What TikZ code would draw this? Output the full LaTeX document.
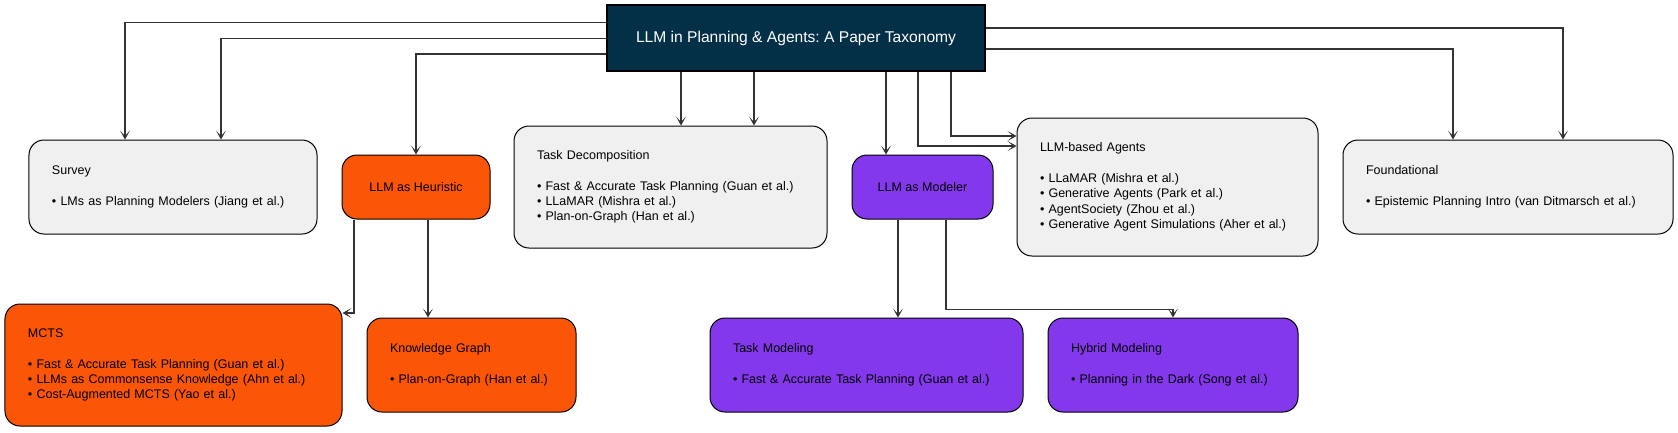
\documentclass[tikz,border=0pt]{standalone}
\usepackage{fontspec}
\setmainfont{Liberation Sans}
\usetikzlibrary{arrows.meta}
\definecolor{rootnavy}{HTML}{032F47}
\definecolor{heurorange}{HTML}{FB5607}
\definecolor{modpurple}{HTML}{8338EC}
\definecolor{papergray}{HTML}{F0F0F0}
\frenchspacing
\begin{document}
\begin{tikzpicture}[x=1bp,y=-1bp,>={Stealth[length=9bp,width=10bp,inset=5.5bp]}]
    \tikzstyle{every node}=[font=\fontsize{12.5bp}{15.3bp}\selectfont];
    \tikzstyle{box}=[draw=black,line width=1bp,rounded corners=15bp,fill=papergray,align=left,inner xsep=23bp,inner ysep=0pt];
    \tikzstyle{tag}=[draw=black,line width=1bp,rounded corners=15bp,align=center,inner sep=0pt];
    \tikzstyle{link}=[->,draw=black!80,line width=1.3bp];
    \useasboundingbox (0,0) rectangle (1678,432);

    \node at (796, 38) (root) [draw=black,line width=2.5bp,fill=rootnavy,text=white,minimum width=378bp,minimum height=66bp,font=\fontsize{15.6bp}{18bp}\selectfont] {LLM in Planning \& Agents: A Paper Taxonomy};

    % first row
    \node at (173, 187) (survey) [box,text width=242bp,minimum height=94bp] {Survey\\[15.3bp]• LMs as Planning Modelers (Jiang et al.)};
    \node at (416, 187) (heur) [tag,fill=heurorange,minimum width=148bp,minimum height=64bp] {LLM as Heuristic};
    \node at (670.5, 187) (taskdec) [box,text width=267bp,minimum height=122bp] {Task Decomposition\\[15.3bp]• Fast \& Accurate Task Planning (Guan et al.)\\• LLaMAR (Mishra et al.)\\• Plan-on-Graph (Han et al.)};
    \node at (922.5, 187) (modeler) [tag,fill=modpurple,minimum width=141bp,minimum height=64bp] {LLM as Modeler};
    \node at (1167.5, 187) (agents) [box,text width=255bp,minimum height=138bp] {LLM-based Agents\\[15.3bp]• LLaMAR (Mishra et al.)\\• Generative Agents (Park et al.)\\• AgentSociety (Zhou et al.)\\• Generative Agent Simulations (Aher et al.)};
    \node at (1508, 187) (found) [box,text width=284bp,minimum height=94bp] {Foundational\\[15.3bp]• Epistemic Planning Intro (van Ditmarsch et al.)};

    % second row
    \node at (173.5, 365) (mcts) [box,fill=heurorange,text width=291bp,minimum height=122bp] {MCTS\\[15.3bp]• Fast \& Accurate Task Planning (Guan et al.)\\• LLMs as Commonsense Knowledge (Ahn et al.)\\• Cost-Augmented MCTS (Yao et al.)};
    \node at (471.5, 365) (kg) [box,fill=heurorange,text width=163bp,minimum height=94bp] {Knowledge Graph\\[15.3bp]• Plan-on-Graph (Han et al.)};
    \node at (866.5, 365) (taskmod) [box,fill=modpurple,text width=267bp,minimum height=94bp] {Task Modeling\\[15.3bp]• Fast \& Accurate Task Planning (Guan et al.)};
    \node at (1173, 365) (hybrid) [box,fill=modpurple,text width=204bp,minimum height=94bp] {Hybrid Modeling\\[15.3bp]• Planning in the Dark (Song et al.)};

    \draw[link] ([yshift=15.5bp]root.west) -| ([xshift=-48bp]survey.north);
    \draw[link] ([yshift=-0.5bp]root.west) -| ([xshift=48bp]survey.north);
    \draw[link] ([yshift=-16bp]root.west) -| (heur.north);
    \draw[link] ([xshift=-115bp]root.south) -- ([xshift=-115bp]root.south |- taskdec.north);
    \draw[link] ([xshift=-42bp]root.south) -- ([xshift=-42bp]root.south |- taskdec.north);
    \draw[link] ([xshift=90bp]root.south) -- ([xshift=90bp]root.south |- modeler.north);
    \draw[link] ([xshift=122bp]root.south) |- ([yshift=41bp]agents.west);
    \draw[link] ([xshift=155bp]root.south) |- ([yshift=51bp]agents.west);
    \draw[link] ([yshift=10bp]root.east) -| ([xshift=55bp]found.north);
    \draw[link] ([yshift=-11bp]root.east) -| ([xshift=-55bp]found.north);

    \draw[link] ([xshift=-62bp]heur.south) |- ([yshift=52bp]mcts.east);
    \draw[link] ([xshift=12bp]heur.south) -- ([xshift=12bp]heur.south |- kg.north);
    \draw[link] ([xshift=-24.5bp]modeler.south) -- ([xshift=-24.5bp]modeler.south |- taskmod.north);
    \draw[link] ([xshift=23.5bp]modeler.south) -- ++(0,90) -| (hybrid.north);
\end{tikzpicture}
\end{document}
